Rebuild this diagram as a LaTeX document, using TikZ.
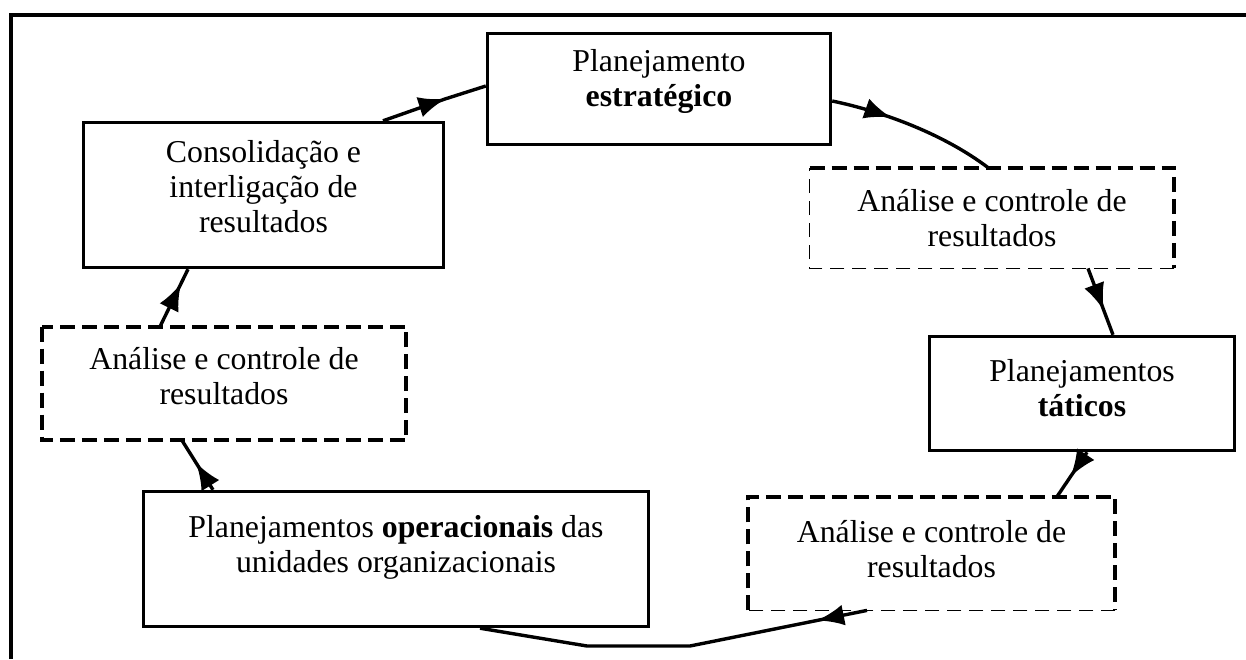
\documentclass[tikz,border=0pt]{standalone}
\usepackage{fontspec}
\setmainfont{Liberation Serif}
\usetikzlibrary{arrows.meta,decorations.markings,calc}
\begin{document}
\begin{tikzpicture}[x=0.5pt,y=-0.5pt,
  txt/.style={align=center,inner sep=0pt,font=\fontsize{15.9pt}{17.5pt}\selectfont},
  solidbox/.style={draw,line width=1.7pt,inner sep=0pt},
  dashbox/.style={inner sep=0pt},
  thickdash/.style={line width=2pt,dash pattern=on 7.5pt off 3.5pt},
  thindash/.style={line width=0.8pt,dash pattern=on 7pt off 4pt},
  conn/.style={line width=1.7pt},
  flow/.style={conn,postaction={decorate},
    decoration={markings,mark=at position #1 with {\arrow{Latex[length=13.5pt,width=10.5pt]}}}},
  frame/.style={line width=2pt,line join=miter}]
\useasboundingbox (0,0) rectangle (1246,659);
% frame
\draw[frame] (11,659) -- (11,14.7) -- (1246,14.7);
% solid boxes
\node[solidbox,minimum width=180pt,minimum height=72.5pt] (C) at (263.5,195) {};
\node[txt] (Ct) at (263.5,187) {Consolidação e\\interligação de\\resultados};
\node[solidbox,minimum width=171.5pt,minimum height=55.5pt] (E) at (659,89) {};
\node[txt] (Et) at (659,81) {Planejamento\\\textbf{estratégico}};
\node[solidbox,minimum width=152.5pt,minimum height=57pt] (T) at (1082,393.5) {};
\node[txt] (Tt) at (1082,388.5) {Planejamentos\\\textbf{táticos}};
\node[solidbox,minimum width=252.5pt,minimum height=67.5pt] (O) at (396,559) {};
\node[txt] (Ot) at (396,547) {Planejamentos \textbf{operacionais} das\\unidades organizacionais};
% dashed boxes
\node[dashbox,minimum width=182pt,minimum height=50pt] (D1) at (992,218) {};
\node[txt] (D1t) at (992,218) {Análise e controle de\\resultados};
\node[dashbox,minimum width=183.5pt,minimum height=56.5pt] (D2) at (931.5,553.5) {};
\node[txt] (D2t) at (931.5,549.5) {Análise e controle de\\resultados};
\node[dashbox,minimum width=182pt,minimum height=56.5pt] (D3) at (224,383.5) {};
\node[txt] (D3t) at (224,376.5) {Análise e controle de\\resultados};
\draw[thickdash] (D1.north west) -- (D1.north east) -- (D1.south east);
\draw[thindash] (D1.south east) -- (D1.south west) -- (D1.north west);
\draw[thickdash] (D2.south west) -- (D2.north west) -- (D2.north east) -- (D2.south east);
\draw[thindash] (D2.south east) -- (D2.south west);
\draw[thickdash] (D3.north west) rectangle (D3.south east);
% connectors
\coordinate (ce) at (445,99);
\coordinate (b1) at (690,646);
\coordinate (b2) at (587,646);
\draw[flow=0.61] ([xshift=59.75pt]C.north) -- (ce) -- ([yshift=1.5pt]E.west);
\draw[flow=0.36] ([yshift=-6pt]E.east) .. controls (885,112) and (945,135) .. ([xshift=-2pt]D1.north);
\draw[flow=0.63] ([xshift=48pt]D1.south) -- ([xshift=15.5pt]T.north);
\draw[flow=0.55] ([xshift=2.5pt]T.south) -- ([xshift=62.75pt]D2.north);
\draw[flow=0.13] ([xshift=-32.25pt]D2.south) -- (b1) -- (b2) -- ([xshift=42pt]O.south);
\draw[flow=0.55] ([xshift=-91.5pt]O.north) -- ([xshift=-21pt]D3.south);
\draw[flow=0.75] ([xshift=-32pt]D3.north) -- ([xshift=-37.75pt]C.south);
\end{tikzpicture}
\end{document}
